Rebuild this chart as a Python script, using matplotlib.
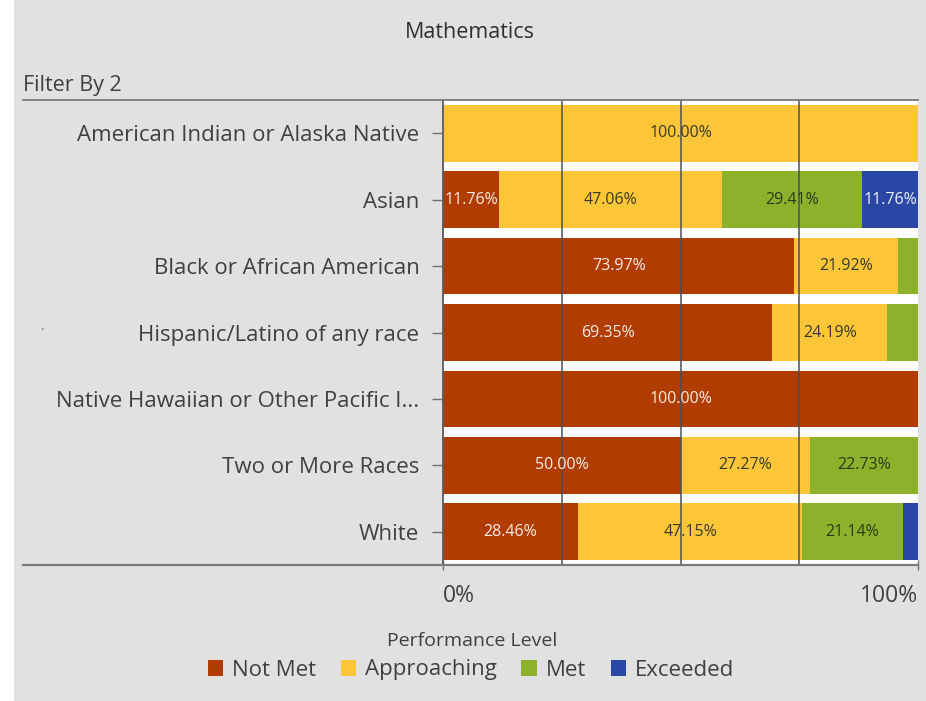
import matplotlib
matplotlib.use("Agg")
import matplotlib.pyplot as plt
from matplotlib.patches import Patch, Rectangle
from matplotlib.lines import Line2D
import numpy as np

plt.rcParams['font.family'] = ['Open Sans', 'DejaVu Sans']

categories = ["American Indian or Alaska Native", "Asian", "Black or African American",
              "Hispanic/Latino of any race", "Native Hawaiian or Other Pacific I...",
              "Two or More Races", "White"]
levels = ["Not Met", "Approaching", "Met", "Exceeded"]
not_met = [0.0, 11.76, 73.97, 69.35, 100.0, 50.00, 28.46]
approaching = [100.0, 47.06, 21.92, 24.19, 0.0, 27.27, 47.15]
met = [0.0, 29.41, 4.11, 6.46, 0.0, 22.73, 21.14]
exceeded = [0.0, 11.76, 0.0, 0.0, 0.0, 0.0, 3.25]
series = [not_met, approaching, met, exceeded]
colors = ["#b03c00", "#fdc638", "#8cb22b", "#2b47a6"]
label_colors = ["#f8ece4", "#3a3a2a", "#2a3a1a", "#eef0fa"]
xtick_labels = ["0%", "100%"]

W, H = 926, 701
fig = plt.figure(figsize=(W/100, H/100), dpi=100)
bg = "#e1e1e1"
fig.patch.set_facecolor(bg)
fig.patches.append(Rectangle((0, 0), 14/W, 1, transform=fig.transFigure,
                             facecolor="white", edgecolor="none", zorder=0))

ax = fig.add_axes([443/W, 1-565/H, (918-443)/W, (565-100)/H])
ax.set_facecolor("white")
y = np.arange(len(categories))
left = np.zeros(len(categories))
for vals, col, lc in zip(series, colors, label_colors):
    vals = np.array(vals)
    ax.barh(y, vals, left=left, height=0.855, color=col, zorder=2)
    for i, v in enumerate(vals):
        if v >= 10:
            ax.text(left[i] + v/2, y[i], f"{v:.2f}%", ha="center", va="center",
                    fontsize=11.5, color=lc, zorder=4)
    left += vals

ax.set_xlim(0, 100)
ax.set_ylim(len(categories) - 0.5, -0.5)
for gx in [25, 50, 75]:
    ax.axvline(gx, color="#4a4f5a", lw=1.1, zorder=3)

ax.set_yticks(y)
ax.set_yticklabels(categories, fontsize=16, color="#404040")
ax.tick_params(axis="y", length=8, width=1, color="#707070", pad=9)
ax.set_xticks([0, 100])
ax.set_xticklabels(xtick_labels, fontsize=16.5, color="#404040")
xl = ax.get_xticklabels()
xl[0].set_ha("left")
xl[1].set_ha("right")
ax.tick_params(axis="x", length=7, width=1, color="#707070", pad=10, direction="inout")
for s in ["top", "right"]:
    ax.spines[s].set_visible(False)
ax.spines["left"].set_color("#5a5a5a")
ax.spines["left"].set_linewidth(1.3)
ax.spines["bottom"].set_visible(False)

fig.add_artist(Line2D([23/W, 918/W], [1-100/H, 1-100/H], transform=fig.transFigure,
                      color="#7a7a7a", lw=1.3))
fig.add_artist(Line2D([23/W, 918/W], [1-564.5/H, 1-564.5/H], transform=fig.transFigure,
                      color="#7a7a7a", lw=1.6))

fig.text(470/W, 1-33/H, "Mathematics", ha="center", va="center", fontsize=15.5, color="#303030")
fig.text(23/W, 1-85/H, "Filter By 2", ha="left", va="center", fontsize=15.5, color="#404040")
fig.text(42/W, 1-330/H, "·", ha="center", va="center", fontsize=9, color="#606060")

fig.text(472/W, 1-641/H, "Performance Level", ha="center", va="center", fontsize=14, color="#404040")
handles = [Patch(facecolor=c, edgecolor="none") for c in colors]
leg = fig.legend(handles, levels, loc="center", bbox_to_anchor=(471/W, 1-670/H),
                 ncol=4, frameon=False, fontsize=16, handlelength=0.7, handleheight=0.7,
                 handletextpad=0.4, columnspacing=1.1, borderpad=0)
for t in leg.get_texts():
    t.set_color("#404040")

fig.savefig("out.png", dpi=100, facecolor=fig.get_facecolor())
